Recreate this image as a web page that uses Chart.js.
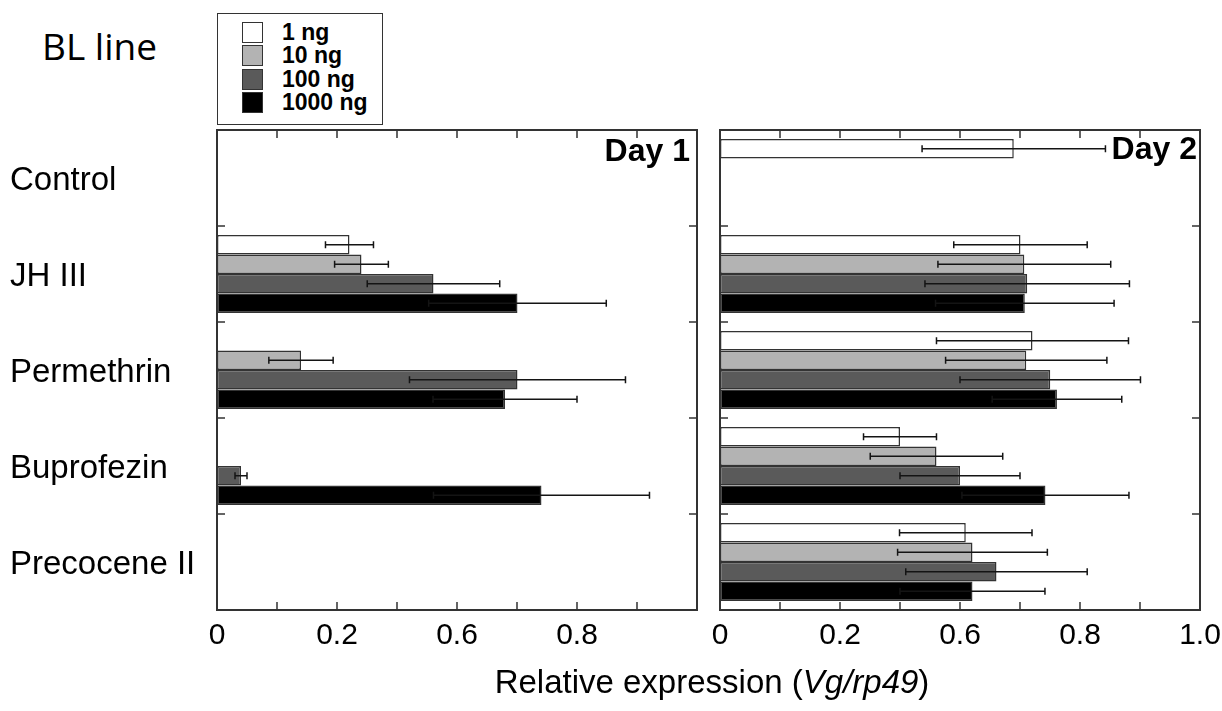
<!DOCTYPE html>
<html>
<head>
<meta charset="utf-8">
<script src="https://cdn.jsdelivr.net/npm/chart.js@4/dist/chart.umd.min.js"></script>
<style>
  body { margin: 0; background: #fff; }
  #wrap { position: relative; width: 1222px; height: 711px; overflow: hidden; font-family: "Liberation Sans", Arial, sans-serif; }
  canvas { position: absolute; }
  #blline { position: absolute; left: 42px; top: 20px; font: 37px "Open Sans", sans-serif; color: #000; }
  #legend { position: absolute; left: 217px; top: 13px; width: 164px; height: 110px; border: 1.5px solid #333; box-sizing: content-box; }
  .row { position: absolute; left: 0; height: 24px; }
  .sw { position: absolute; left: 24px; width: 19px; height: 19px; border: 1.5px solid #333; }
  .lt { position: absolute; left: 64px; top: -3px; font: bold 23px "Liberation Sans", Arial, sans-serif; white-space: nowrap; color: #000; }
  #xtitle { position: absolute; left: 0; width: 1424px; top: 663px; text-align: center; font: 33px "Liberation Sans", Arial, sans-serif; color: #000; }
</style>
</head>
<body>
<div id="wrap">
  <div id="blline">BL line</div>
  <div id="legend"></div>
  <canvas id="day1" width="705" height="591" style="left:0;top:120px"></canvas>
  <canvas id="day2" width="517" height="591" style="left:705px;top:120px"></canvas>
  <div id="xtitle">Relative expression (<i>Vg/rp49</i>)</div>
</div>
<script>
const categories = ['Control', 'JH III', 'Permethrin', 'Buprofezin', 'Precocene II'];
const doses = ['1 ng', '10 ng', '100 ng', '1000 ng'];
const doseColors = ['#ffffff', '#b3b3b3', '#5a5a5a', '#000000'];
const xTickLabels = ['0', '', '0.2', '', '0.6', '', '0.8', '', '1.0'];
const panelTitles = ['Day 1', 'Day 2'];

// Day 1
const d1_1ng    = [null, 0.276, null,  null,  null];
const d1_10ng   = [null, 0.301, 0.175, null,  null];
const d1_100ng  = [null, 0.451, 0.626, 0.05,  null];
const d1_1000ng = [null, 0.626, 0.600, 0.676, null];
const e1_1ng    = [0, 0.050, 0,     0,      0];
const e1_10ng   = [0, 0.056, 0.067, 0,      0];
const e1_100ng  = [0, 0.138, 0.225, 0.0125, 0];
const e1_1000ng = [0, 0.185, 0.150, 0.225,  0];

// Day 2
const d2_1ng    = [0.612, 0.626, 0.651, 0.375, 0.512];
const d2_10ng   = [null,  0.634, 0.638, 0.451, 0.526];
const d2_100ng  = [null,  0.640, 0.688, 0.500, 0.576];
const d2_1000ng = [null,  0.635, 0.702, 0.678, 0.526];
const e2_1ng    = [0.191, 0.139, 0.200, 0.076, 0.138];
const e2_10ng   = [0,     0.180, 0.168, 0.138, 0.156];
const e2_100ng  = [0,     0.213, 0.188, 0.125, 0.189];
const e2_1000ng = [0,     0.186, 0.135, 0.174, 0.151];

// html legend
const legend = document.getElementById('legend');
doses.forEach((d, i) => {
  const row = document.createElement('div');
  row.className = 'row';
  row.style.top = (7.5 + i * 23.6) + 'px';
  row.innerHTML = '<div class="sw" style="background:' + doseColors[i] + '"></div><div class="lt">' + d + '</div>';
  legend.appendChild(row);
});

function makeSets(vals, errs) {
  return vals.map((v, i) => ({
    label: doses[i],
    data: v,
    errors: errs[i],
    backgroundColor: doseColors[i],
    borderColor: '#333',
    borderWidth: 1.5,
    borderSkipped: false,
    categoryPercentage: 0.8125,
    barPercentage: 1.0
  }));
}

const framePlugin = {
  id: 'frame',
  afterDatasetsDraw(chart, args, opts) {
    const ctx = chart.ctx;
    const a = chart.chartArea;
    const xs = chart.scales.x, ys = chart.scales.y;
    ctx.save();
    // error bars
    ctx.strokeStyle = '#141414';
    ctx.lineWidth = 1.5;
    chart.data.datasets.forEach((ds, di) => {
      const meta = chart.getDatasetMeta(di);
      meta.data.forEach((bar, i) => {
        const v = ds.data[i], e = ds.errors[i];
        if (v == null || !e) return;
        const y = bar.y;
        const xl = xs.getPixelForValue(v - e), xr = xs.getPixelForValue(v + e);
        ctx.beginPath();
        ctx.moveTo(xl, y); ctx.lineTo(xr, y);
        ctx.moveTo(xl, y - 3.5); ctx.lineTo(xl, y + 3.5);
        ctx.moveTo(xr, y - 3.5); ctx.lineTo(xr, y + 3.5);
        ctx.stroke();
      });
    });
    // inward ticks
    ctx.strokeStyle = '#333';
    ctx.beginPath();
    xs.ticks.forEach(t => {
      const px = xs.getPixelForValue(t.value);
      ctx.moveTo(px, a.top); ctx.lineTo(px, a.top + 8);
      ctx.moveTo(px, a.bottom); ctx.lineTo(px, a.bottom - 8);
    });
    for (let i = 1; i < categories.length; i++) {
      const py = (ys.getPixelForValue(i - 1) + ys.getPixelForValue(i)) / 2;
      ctx.moveTo(a.left, py); ctx.lineTo(a.left + 8, py);
      ctx.moveTo(a.right, py); ctx.lineTo(a.right - 8, py);
    }
    ctx.stroke();
    // frame
    ctx.lineWidth = 2;
    ctx.strokeRect(a.left, a.top, a.right - a.left, a.bottom - a.top);
    // panel title
    ctx.fillStyle = '#000';
    ctx.font = 'bold 32px "Liberation Sans", Arial, sans-serif';
    ctx.textAlign = 'right';
    ctx.textBaseline = 'alphabetic';
    ctx.fillText(opts.title, a.right - opts.dx, a.top + opts.dy);
    ctx.restore();
  }
};

function makeChart(id, sets, panel) {
  const left = panel === 0;
  return new Chart(document.getElementById(id), {
    type: 'bar',
    data: { labels: categories, datasets: sets },
    plugins: [framePlugin],
    options: {
      indexAxis: 'y',
      responsive: false,
      animation: false,
      layout: { padding: left ? { left: 10, top: 10, right: 8, bottom: 0 } : { left: 15, top: 10, right: 22, bottom: 0 } },
      plugins: {
        legend: { display: false },
        tooltip: { enabled: false },
        frame: { title: panelTitles[panel], dx: left ? 7 : 3, dy: left ? 31 : 29 }
      },
      scales: {
        x: {
          min: 0, max: 1,
          grid: { display: false },
          border: { display: false },
          afterFit(s) { s.height = 101; s.paddingLeft = 0; s.paddingRight = 0; },
          ticks: {
            stepSize: 0.125,
            autoSkip: false,
            maxRotation: 0,
            padding: 0,
            color: '#000',
            font: { size: 30, family: '"Liberation Sans", Arial, sans-serif' },
            callback(v, i) { return (left && i === 8) ? '' : xTickLabels[i]; }
          }
        },
        y: {
          display: left,
          grid: { display: false },
          border: { display: false },
          afterFit(s) { s.width = left ? 207 : 0; s.paddingTop = 0; s.paddingBottom = 0; },
          ticks: {
            crossAlign: 'far',
            padding: 0,
            labelOffset: 3,
            color: '#000',
            font: { size: 33, family: '"Liberation Sans", Arial, sans-serif' }
          }
        }
      }
    }
  });
}

makeChart('day1', makeSets([d1_1ng, d1_10ng, d1_100ng, d1_1000ng], [e1_1ng, e1_10ng, e1_100ng, e1_1000ng]), 0);
makeChart('day2', makeSets([d2_1ng, d2_10ng, d2_100ng, d2_1000ng], [e2_1ng, e2_10ng, e2_100ng, e2_1000ng]), 1);
</script>
</body>
</html>
